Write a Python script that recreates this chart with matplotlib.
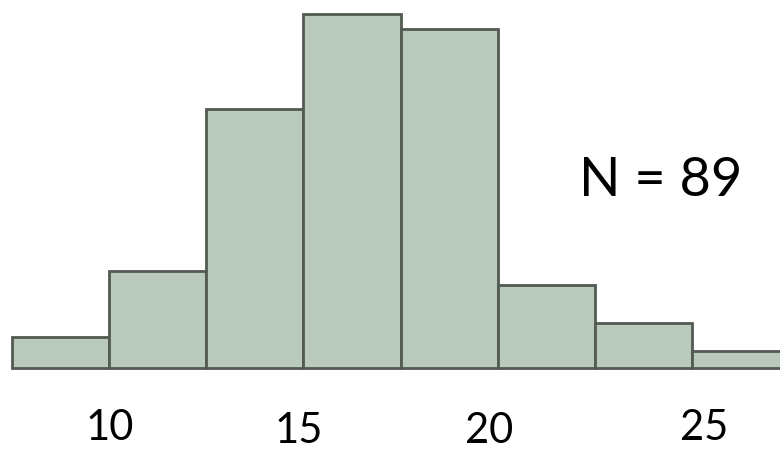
import matplotlib.pyplot as plt

# bin counts (8 equal-width bins)
counts = [2.25, 7.05, 18.8, 25.7, 24.6, 6.0, 3.25, 1.25]
bin_left = [0, 1, 2, 3, 4, 5, 6, 7]

tick_text = ["10", "15", "20", "25"]
tick_x = [1.004, 2.949, 4.915, 7.12]
tick_y = [-4.3, -4.52, -4.52, -4.3]

n_label = "N = 89"

plt.rcParams["font.family"] = ["Lato", "DejaVu Sans"]

fig = plt.figure(figsize=(7.8, 4.56), dpi=100)
ax = fig.add_axes([0, 0, 1, 1])

ax.bar(bin_left, counts, width=1, align="edge",
       color="#b9c9bb", edgecolor="#525a52", linewidth=2.0)

for t, x, y in zip(tick_text, tick_x, tick_y):
    ax.text(x, y, t, ha="center", va="center", fontsize=30, color="black")

ax.text(6.68, 13.7, n_label, ha="center", va="center", fontsize=39, color="black")

ax.set_xlim(-0.1235, 7.906)
ax.set_ylim(-6.32, 26.8)
ax.axis("off")

fig.savefig("out.png", dpi=100)
